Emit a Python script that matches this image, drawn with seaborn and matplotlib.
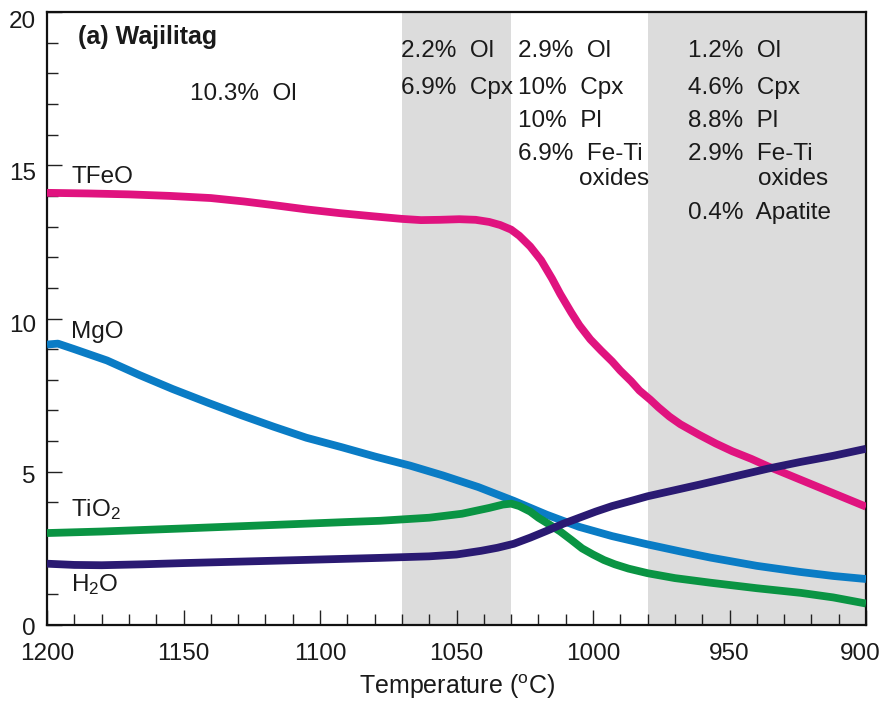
import matplotlib
matplotlib.use("Agg")
import matplotlib.pyplot as plt
from matplotlib.ticker import MultipleLocator
from matplotlib.transforms import ScaledTranslation
import seaborn as sns
import pandas as pd

# Liquid-line-of-descent curves (wt.%) versus temperature
temp_tfeo = [1200, 1185, 1170, 1155, 1140, 1128, 1117, 1105, 1093, 1080, 1070, 1063,
             1056, 1049, 1043, 1038, 1034, 1030, 1027, 1023, 1019, 1015, 1012, 1008,
             1005, 1001, 997, 993, 990, 986, 983, 979, 976, 972, 968, 964, 961, 955,
             949, 942, 936, 930, 924, 918, 912, 906, 900]
tfeo = [14.1, 14.08, 14.05, 14.0, 13.93, 13.82, 13.7, 13.56, 13.44, 13.33, 13.25, 13.21,
        13.22, 13.24, 13.22, 13.15, 13.05, 12.9, 12.7, 12.35, 11.9, 11.3, 10.8, 10.2,
        9.78, 9.32, 8.95, 8.6, 8.3, 7.95, 7.65, 7.35, 7.1, 6.8, 6.55, 6.35, 6.2, 5.92,
        5.67, 5.42, 5.18, 4.96, 4.74, 4.52, 4.3, 4.08, 3.86]

temp_mgo = [1200, 1196, 1190, 1178, 1166, 1154, 1141, 1129, 1117, 1105, 1092, 1080,
            1067, 1055, 1042, 1029, 1017, 1005, 993, 980, 968, 957, 940, 924, 912, 900]
mgo = [9.15, 9.18, 9.0, 8.63, 8.15, 7.7, 7.25, 6.85, 6.47, 6.11, 5.8, 5.5,
       5.2, 4.88, 4.5, 4.05, 3.6, 3.2, 2.9, 2.63, 2.4, 2.2, 1.93, 1.73, 1.6, 1.5]

temp_tio2 = [1200, 1180, 1150, 1107, 1090, 1078, 1060, 1048, 1038, 1033, 1030, 1027,
             1023, 1020, 1016, 1012, 1008, 1004, 1000, 996, 992, 987, 980, 970, 957,
             940, 924, 912, 900]
tio2 = [3.0, 3.05, 3.15, 3.3, 3.36, 3.4, 3.5, 3.63, 3.82, 3.93, 3.96, 3.88,
        3.7, 3.5, 3.28, 3.05, 2.78, 2.5, 2.3, 2.12, 1.98, 1.84, 1.69, 1.53, 1.38,
        1.2, 1.05, 0.9, 0.7]

temp_h2o = [1200, 1190, 1180, 1165, 1150, 1107, 1078, 1060, 1050, 1041, 1035, 1029,
            1023, 1017, 1011, 1005, 999, 993, 986, 980, 970, 961, 948, 936, 924, 912, 900]
h2o = [2.0, 1.96, 1.95, 1.98, 2.02, 2.12, 2.19, 2.24, 2.3, 2.42, 2.52, 2.65,
       2.85, 3.07, 3.3, 3.5, 3.7, 3.88, 4.05, 4.2, 4.4, 4.58, 4.85, 5.1, 5.32, 5.52, 5.75]

# Axis ticks
x_ticks = [1200, 1150, 1100, 1050, 1000, 950, 900]
y_ticks = [0, 5, 10, 15, 20]

# Crystallisation intervals (shaded) and the assemblages removed
band_starts = [1070, 980]
band_ends = [1030, 900]

stage_labels = [
    ["10.3%  Ol"],
    ["2.2%  Ol", "6.9%  Cpx"],
    ["2.9%  Ol", "10%  Cpx", "10%  Pl", "6.9%  Fe-Ti"],
    ["1.2%  Ol", "4.6%  Cpx", "8.8%  Pl", "2.9%  Fe-Ti"],
]

series_names = ["TFeO", "MgO", "TiO$_2$", "H$_2$O"]
series_colors = ["#e0137f", "#0a7cc5", "#0a9443", "#2a1a72"]

sns.set_style("ticks")
plt.rcParams["font.family"] = ["Liberation Sans", "DejaVu Sans"]
plt.rcParams["mathtext.fontset"] = "custom"
plt.rcParams["mathtext.rm"] = "Liberation Sans"
plt.rcParams["mathtext.it"] = "Liberation Sans"
plt.rcParams["mathtext.bf"] = "Liberation Sans:bold"

W, H = 883, 701
fig = plt.figure(figsize=(W / 100, H / 100), dpi=100)
ax = fig.add_axes([47 / W, 1 - 625 / H, (866 - 47) / W, (625 - 12) / H])

for s, e in zip(band_starts, band_ends):
    ax.axvspan(s, e, color="#dcdcdc", lw=0, zorder=0)

frames = [
    pd.DataFrame({"T": temp_tfeo, "v": tfeo}),
    pd.DataFrame({"T": temp_mgo, "v": mgo}),
    pd.DataFrame({"T": temp_tio2, "v": tio2}),
    pd.DataFrame({"T": temp_h2o, "v": h2o}),
]
for df, c in zip(frames, series_colors):
    sns.lineplot(data=df, x="T", y="v", color=c, linewidth=5.6, estimator=None,
                 ax=ax, solid_capstyle="butt", solid_joinstyle="round", zorder=3)

fs = 17.5
tc = "#1a1a1a"

ax.set_xlim(1200, 900)
ax.set_ylim(0, 20)
ax.set_xticks(x_ticks)
ax.set_xticklabels([str(t) for t in x_ticks])
ax.set_yticks(y_ticks)
ax.set_yticklabels([str(t) for t in y_ticks])
ax.xaxis.set_minor_locator(MultipleLocator(10))
ax.yaxis.set_minor_locator(MultipleLocator(1))
ax.tick_params(which="both", direction="in", top=False, right=False, width=1.0,
               color="#222222", labelsize=fs, labelcolor=tc)
ax.tick_params(which="major", length=11)
ax.tick_params(which="minor", length=8)
ax.tick_params(axis="x", which="major", pad=13)
ax.tick_params(axis="y", which="major", pad=8)
for sp in ax.spines.values():
    sp.set_visible(True)
    sp.set_linewidth(1.6)
    sp.set_color("#111111")

# Keep the last temperature label inside the figure
last = ax.get_xticklabels()[-1]
last.set_transform(last.get_transform()
                   + ScaledTranslation(-6 / 100, 0, fig.dpi_scale_trans))
# Nudge the concentration labels slightly below their ticks
for lab, dy in zip(ax.get_yticklabels(), [1.7, 3, 4.5, 6.5, 8]):
    lab.set_transform(lab.get_transform()
                      + ScaledTranslation(0, -dy / 100, fig.dpi_scale_trans))

ax.set_xlabel("Temperature ($^{\\mathrm{o}}$C)", fontsize=18, labelpad=5, color=tc)
ax.set_ylabel("")

ax.text(1188.6, 18.94, "(a) Wajilitag", fontsize=18, fontweight="bold",
        ha="left", va="baseline", color=tc)

# Series labels next to the left axis
label_y = [14.41, 9.36, 3.56, 1.11]
for name, yv in zip(series_names, label_y):
    ax.text(1191.2, yv, name, fontsize=fs, ha="left", va="baseline", color=tc)

# Fractionating assemblages for each stage
row_y = [18.54, 17.32, 16.25, 15.16]
ax.text(1147.6, 17.12, stage_labels[0][0], fontsize=fs, ha="left", va="baseline", color=tc)
for lab, yv in zip(stage_labels[1], row_y):
    ax.text(1070.3, yv, lab, fontsize=fs, ha="left", va="baseline", color=tc)
for lab, yv in zip(stage_labels[2], row_y):
    ax.text(1027.3, yv, lab, fontsize=fs, ha="left", va="baseline", color=tc)
ax.text(1005.1, 14.35, "oxides", fontsize=fs, ha="left", va="baseline", color=tc)
for lab, yv in zip(stage_labels[3], row_y):
    ax.text(965.2, yv, lab, fontsize=fs, ha="left", va="baseline", color=tc)
ax.text(939.6, 14.35, "oxides", fontsize=fs, ha="left", va="baseline", color=tc)
ax.text(965.2, 13.25, "0.4%  Apatite", fontsize=fs, ha="left", va="baseline", color=tc)

fig.savefig("out.png", dpi=100)
